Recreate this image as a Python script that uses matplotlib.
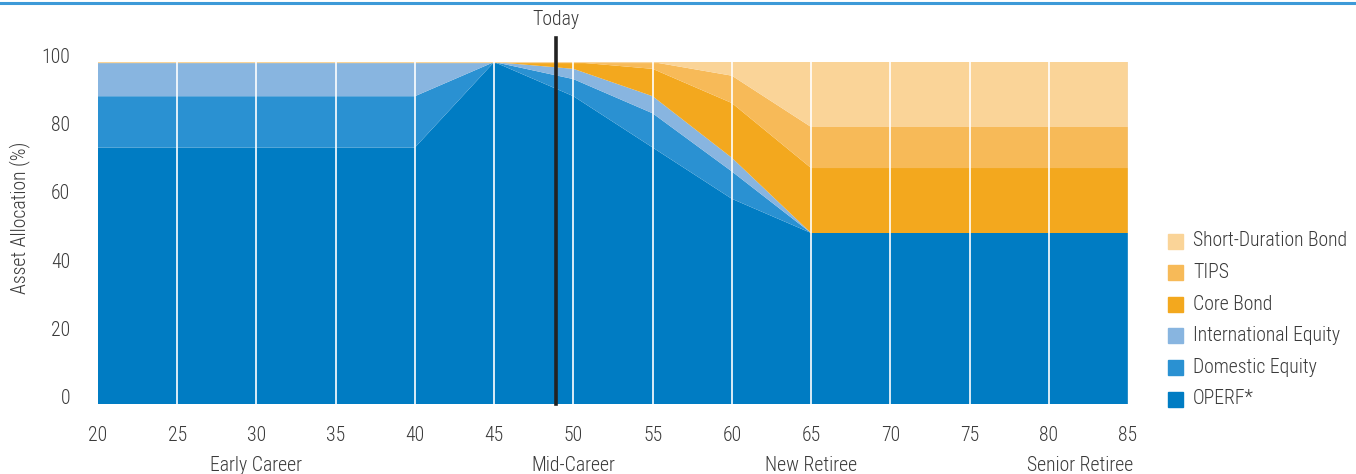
import matplotlib
matplotlib.use("Agg")
import matplotlib.pyplot as plt
import matplotlib.transforms as mtransforms
from matplotlib import font_manager
from matplotlib.patches import Rectangle
from matplotlib.lines import Line2D

# pick a condensed face if one is installed
names = {f.name for f in font_manager.fontManager.ttflist}
font = 'Liberation Sans'
for cand in ['Liberation Sans Narrow', 'DejaVu Sans Condensed', 'Roboto Condensed', 'Open Sans Condensed']:
    if cand in names:
        font = cand
        break
plt.rcParams['font.family'] = [font, 'DejaVu Sans']
plt.rcParams['font.weight'] = 'light'

ages = [20, 25, 30, 35, 40, 45, 50, 55, 60, 65, 70, 75, 80, 85]
operf = [75, 75, 75, 75, 75, 100, 90, 75, 60, 50, 50, 50, 50, 50]
domestic_equity = [15, 15, 15, 15, 15, 0, 5, 10, 8, 0, 0, 0, 0, 0]
intl_equity = [10, 10, 10, 10, 10, 0, 3, 5, 4, 0, 0, 0, 0, 0]
core_bond = [0, 0, 0, 0, 0, 0, 2, 8, 16, 19, 19, 19, 19, 19]
tips = [0, 0, 0, 0, 0, 0, 0, 2, 8, 12, 12, 12, 12, 12]
short_duration = [0, 0, 0, 0, 0, 0, 0, 0, 4, 19, 19, 19, 19, 19]

series = [operf, domestic_equity, intl_equity, core_bond, tips, short_duration]
labels = ['OPERF*', 'Domestic Equity', 'International Equity', 'Core Bond', 'TIPS', 'Short-Duration Bond']
colors = ['#007cc3', '#2a91d2', '#88b5e0', '#f3a81e', '#f7ba58', '#fad498']

stages = ['Early Career', 'Mid-Career', 'New Retiree', 'Senior Retiree']
stage_ages = [30, 50, 65, 82]
today_age = 48.9
yticks = [0, 20, 40, 60, 80, 100]
xticks = list(range(20, 90, 5))

txt = '#3a3a3a'
fsz = 14.2

fig = plt.figure(figsize=(13.56, 4.74), dpi=100)
ax = fig.add_axes([98 / 1356, 70 / 474, 1030 / 1356, 342 / 474])

ax.stackplot(ages, *series, colors=colors, linewidth=0, antialiased=True)
ax.axhline(100, color=colors[5], lw=1.0, zorder=3)

for x in xticks[1:-1]:
    ax.axvline(x, color='white', lw=1.4, alpha=0.85, zorder=4)
ax.axvline(85, color='#e6e6e6', lw=1.0, zorder=4)

ax.set_xlim(20, 85)
ax.set_ylim(0, 100)
ax.set_xticks(xticks)
ax.set_yticks(yticks)
ax.tick_params(length=0, labelsize=fsz, labelcolor=txt)
ax.tick_params(axis='x', pad=16)
ax.tick_params(axis='y', pad=20)
for lab in ax.get_yticklabels():
    lab.set_transform(lab.get_transform() + mtransforms.ScaledTranslation(0, 0.07, fig.dpi_scale_trans))
for s in ax.spines.values():
    s.set_visible(False)

# today marker
ax.plot([today_age, today_age], [0, 1.07], color='#222222', lw=2.6,
        transform=ax.get_xaxis_transform(), clip_on=False, zorder=6)
ax.text(today_age, 1.125, 'Today', transform=ax.get_xaxis_transform(),
        ha='center', va='center', fontsize=fsz, color=txt)

# stage labels under the ages
for st, a in zip(stages, stage_ages):
    ax.text(a, -0.18, st, transform=ax.get_xaxis_transform(),
            ha='center', va='center', fontsize=fsz, color=txt)

fig.text(20 / 1356, 1 - 218 / 474, 'Asset Allocation (%)', rotation=90,
         ha='center', va='center', fontsize=fsz, color=txt)

# legend, top entry first
for i, (lab, col) in enumerate(zip(labels[::-1], colors[::-1])):
    yc = 241 + i * 31.6
    fig.patches.append(Rectangle((1168 / 1356, 1 - (yc + 7.5) / 474), 15 / 1356, 15 / 474,
                                 transform=fig.transFigure, color=col))
    fig.text(1193 / 1356, 1 - yc / 474, lab, ha='left', va='center', fontsize=fsz, color=txt)

# thin rule along the top
fig.add_artist(Line2D([0, 1], [1 - 2.5 / 474, 1 - 2.5 / 474], color='#3d9ad8', lw=2.2,
                      transform=fig.transFigure))

fig.savefig('out.png', dpi=100)
